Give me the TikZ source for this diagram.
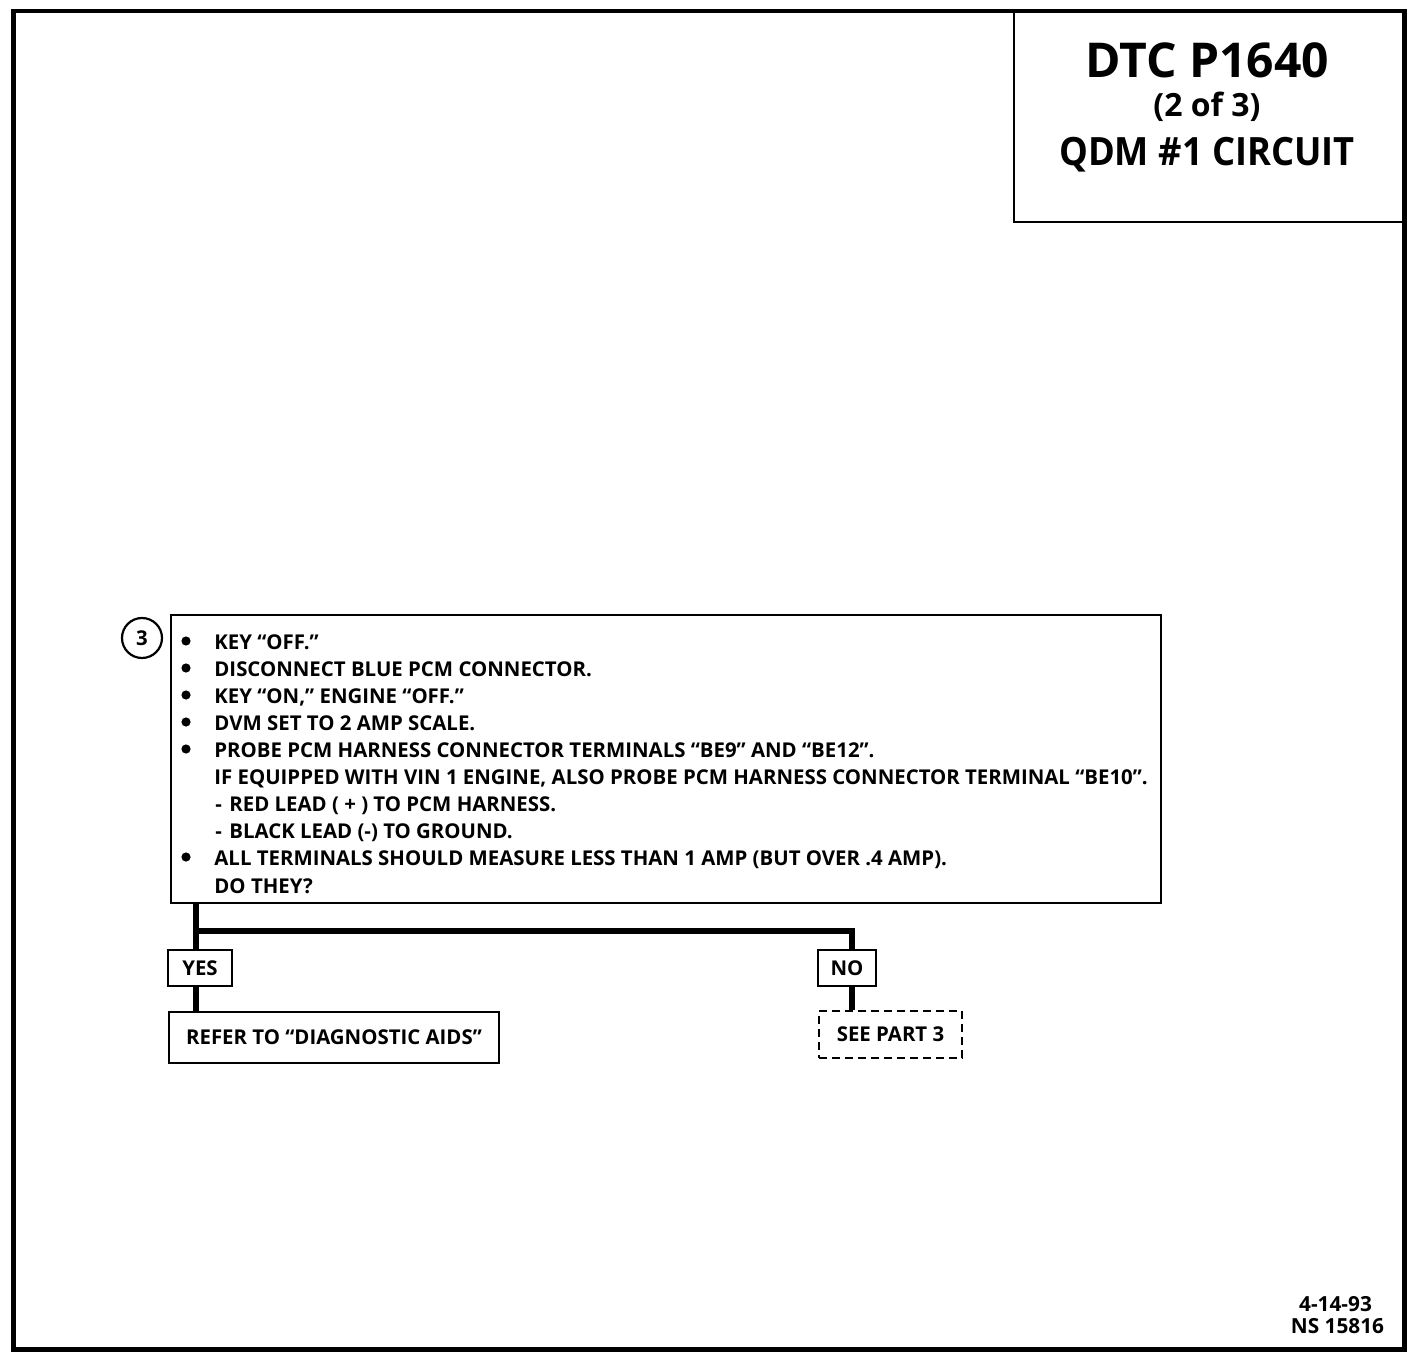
\documentclass[tikz,border=0pt]{standalone}
\usepackage{fontspec}
\setmainfont{Open Sans}
\newfontfamily\qdmfont[FakeStretch=0.93]{Open Sans}
\begin{document}
\begin{tikzpicture}[x=0.5pt,y=-0.5pt,
  box/.style={draw, line width=1.1pt, inner sep=0pt},
  dashbox/.style={draw, line width=1.1pt, inner sep=0pt, dash pattern=on 4pt off 2.5pt},
  body/.style={font=\bfseries\fontsize{10.2}{13}\selectfont, inner sep=0pt, anchor=base west},
  boxtext/.style={font=\bfseries\fontsize{10.2}{13}\selectfont},
  foot/.style={font=\bfseries\fontsize{10.4}{12}\selectfont, inner sep=0pt, anchor=base},
  wire/.style={line width=3pt, line join=miter},
  bul/.style={circle, fill, inner sep=0pt, minimum size=4.6pt}]
\useasboundingbox (0,0) rectangle (1424,1358);
% outer frame
\node[draw, line width=2.25pt, anchor=north west, minimum width=695.5pt, minimum height=669pt, inner sep=0pt] (frame) at (11,9) {};
% title box
\node[box, anchor=north west, minimum width=194.5pt, minimum height=106pt] (title) at (1013,9) {};
\node[font=\bfseries\fontsize{24}{30}\selectfont, inner sep=0pt, anchor=base] (t1) at (1207,78) {DTC P1640};
\node[font=\bfseries\fontsize{16}{18}\selectfont, inner sep=0pt, anchor=base] (t2) at (1207,117) {(2 of 3)};
\node[font=\qdmfont\bfseries\fontsize{19.5}{24}\selectfont, inner sep=0pt, anchor=base] (t3) at (1207,166) {QDM \#1 CIRCUIT};
% step box
\node[box, anchor=north west, minimum width=495pt, minimum height=144pt] (step) at (170,614) {};
\node[draw, circle, line width=1.1pt, minimum size=20pt, inner sep=0pt, font=\bfseries\fontsize{10.2}{13}\selectfont] (num) at (142,638) {3};
\node[bul] (b1) at (186,641) {};
\node[bul] (b2) at (186,668) {};
\node[bul] (b3) at (186,695) {};
\node[bul] (b4) at (186,722) {};
\node[bul] (b5) at (186,749) {};
\node[bul] (b6) at (186,857) {};
\node[body] (l1) at (214,649) {KEY “OFF.”};
\node[body] (l2) at (214,676.1) {DISCONNECT BLUE PCM CONNECTOR.};
\node[body] (l3) at (214,703.2) {KEY “ON,” ENGINE “OFF.”};
\node[body] (l4) at (214,730.3) {DVM SET TO 2 AMP SCALE.};
\node[body] (l5) at (214,757.4) {PROBE PCM HARNESS CONNECTOR TERMINALS “BE9” AND “BE12”.};
\node[body] (l6) at (214,784.5) {IF EQUIPPED WITH VIN 1 ENGINE, ALSO PROBE PCM HARNESS CONNECTOR TERMINAL “BE10”.};
\node[body] (d7) at (215,811.6) {-};
\node[body] (l7) at (229,811.6) {RED LEAD ( + ) TO PCM HARNESS.};
\node[body] (d8) at (215,838.7) {-};
\node[body] (l8) at (229,838.7) {BLACK LEAD (-) TO GROUND.};
\node[body] (l9) at (214,865.8) {ALL TERMINALS SHOULD MEASURE LESS THAN 1 AMP (BUT OVER .4 AMP).};
\node[body] (l10) at (214,893) {DO THEY?};
% outcome boxes
\node[box, minimum width=32pt, minimum height=18pt, boxtext] (yes) at (200,968) {YES};
\node[box, minimum width=165pt, minimum height=25.5pt, boxtext] (refer) at (334,1037.5) {REFER TO “DIAGNOSTIC AIDS”};
\node[box, minimum width=29pt, minimum height=18pt, boxtext] (no) at (847,968) {NO};
\node[dashbox, minimum width=71.5pt, minimum height=23.5pt, boxtext] (see) at (890.5,1034.5) {SEE PART 3};
% connectors
\coordinate (jy) at (196,931);
\coordinate (jn) at (852,931);
\draw[wire] (step.south -| jy) -- (yes.north -| jy);
\draw[wire] (jy) -| (no.north -| jn);
\draw[wire] (yes.south -| jy) -- (refer.north -| jy);
\draw[wire] (no.south -| jn) -- (see.north -| jn);
% footer
\node[foot] (f1) at (1335.5,1311) {4-14-93};
\node[foot] (f2) at (1337.5,1333) {NS 15816};
\end{tikzpicture}
\end{document}
